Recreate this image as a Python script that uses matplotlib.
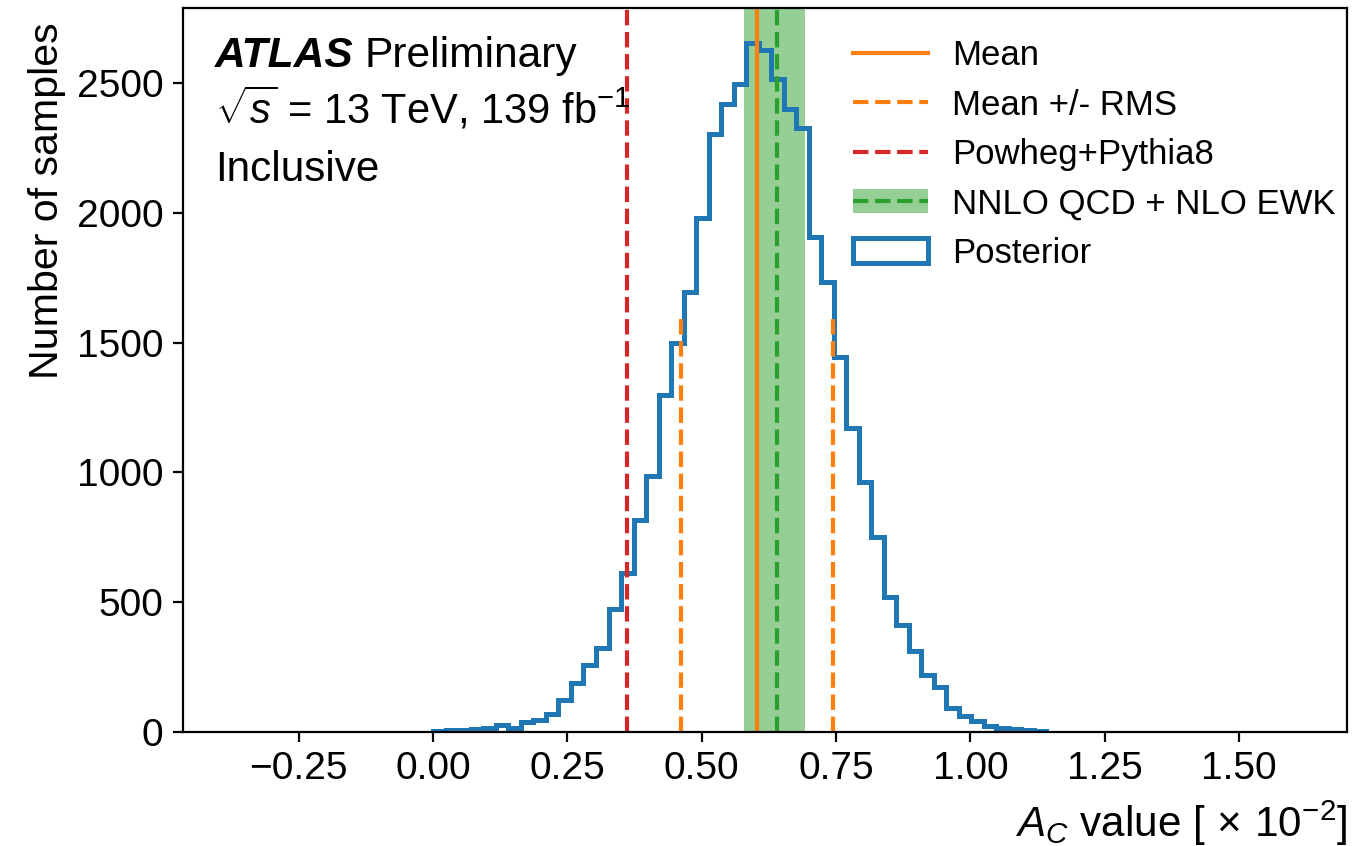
import numpy as np
import matplotlib
matplotlib.use("Agg")
import matplotlib.pyplot as plt
from matplotlib.patches import Patch
from matplotlib.lines import Line2D

plt.rcParams['font.family'] = ['Liberation Sans', 'DejaVu Sans']
plt.rcParams['mathtext.fontset'] = 'custom'
plt.rcParams['mathtext.rm'] = 'Liberation Sans'
plt.rcParams['mathtext.it'] = 'Liberation Sans:italic'
plt.rcParams['mathtext.bf'] = 'Liberation Sans:bold'

# ---- data (A_C in units of 1e-2) ----
bin_lo = 0.001
bin_hi = 1.141
counts = [4, 6, 9, 11, 16, 27, 14, 40, 45, 68,
          122, 189, 257, 323, 475, 612, 815, 985, 1297, 1498,
          1695, 1981, 2302, 2418, 2498, 2656, 2629, 2517, 2401, 2328,
          1907, 1733, 1445, 1172, 963, 751, 520, 411, 312, 218,
          173, 94, 60, 41, 23, 14, 10, 7, 4]
mean_val = 0.603
rms_val = 0.142
rms_line_top = 1590
powheg_val = 0.362
nnlo_val = 0.640
nnlo_lo = 0.578
nnlo_hi = 0.692
xticks = [-0.25, 0.0, 0.25, 0.5, 0.75, 1.0, 1.25, 1.5]
yticks = [0, 500, 1000, 1500, 2000, 2500]

edges = np.linspace(bin_lo, bin_hi, len(counts) + 1)
centers = 0.5 * (edges[:-1] + edges[1:])

fig = plt.figure(figsize=(6.81, 4.23), dpi=200)
ax = fig.add_axes([0.1344, 0.1348, 0.989 - 0.1344, 0.9905 - 0.1348])

_, _, hpatches = ax.hist(centers, bins=edges, weights=counts, histtype='step',
                         color='tab:blue', lw=1.8, label='Posterior')
ax.axvspan(nnlo_lo, nnlo_hi, color='tab:green', alpha=0.5, lw=0)
ax.axvline(mean_val, color='tab:orange', lw=1.5)
ax.vlines([mean_val - rms_val, mean_val + rms_val], 0, rms_line_top,
          colors='tab:orange', linestyles='--', lw=1.5)
ax.axvline(powheg_val, color='tab:red', ls='--', lw=1.5)
ax.axvline(nnlo_val, color='tab:green', ls='--', lw=1.5)

ax.set_xlim(-0.465, 1.701)
ax.set_ylim(0, 1.05 * max(counts))
ax.set_xticks(xticks)
ax.set_yticks(yticks)
ax.tick_params(labelsize=14)

ax.set_xlabel(r"$A_C$ value [$\,\times\,10^{-2}$]", loc='right', fontsize=15.2)
ax.set_ylabel("Number of samples", loc='top', fontsize=14.8)
ax.yaxis.label.set_y(0.98)

handles = [
    Line2D([], [], color='tab:orange', lw=1.5),
    Line2D([], [], color='tab:orange', ls='--', lw=1.5),
    Line2D([], [], color='tab:red', ls='--', lw=1.5),
    (Patch(facecolor='tab:green', alpha=0.5, lw=0), Line2D([], [], color='tab:green', ls='--', lw=1.5)),
    hpatches[0],
]
labels = ['Mean', 'Mean +/- RMS', 'Powheg+Pythia8', 'NNLO QCD + NLO EWK', 'Posterior']
ax.legend(handles, labels, loc='upper right', bbox_to_anchor=(1.0172, 1.0),
          frameon=False, fontsize=12.5, labelspacing=0.47,
          handlelength=2.15, handletextpad=0.7)

t1 = ax.text(0.0275, 0.9186, "ATLAS", transform=ax.transAxes, fontsize=15.3,
             fontweight='bold', fontstyle='italic', va='baseline')
ax.annotate("Preliminary", xy=(1, 0), xycoords=t1, xytext=(4, 0),
            textcoords='offset points', fontsize=15.3, va='bottom')
ax.text(0.0275, 0.8405, r"$\sqrt{s}$ = 13 TeV, 139 fb$^{-1}$", transform=ax.transAxes,
        fontsize=15, va='baseline')
ax.text(0.0275, 0.7615, "Inclusive", transform=ax.transAxes, fontsize=15.2, va='baseline')

fig.savefig("out.png", dpi=200)
